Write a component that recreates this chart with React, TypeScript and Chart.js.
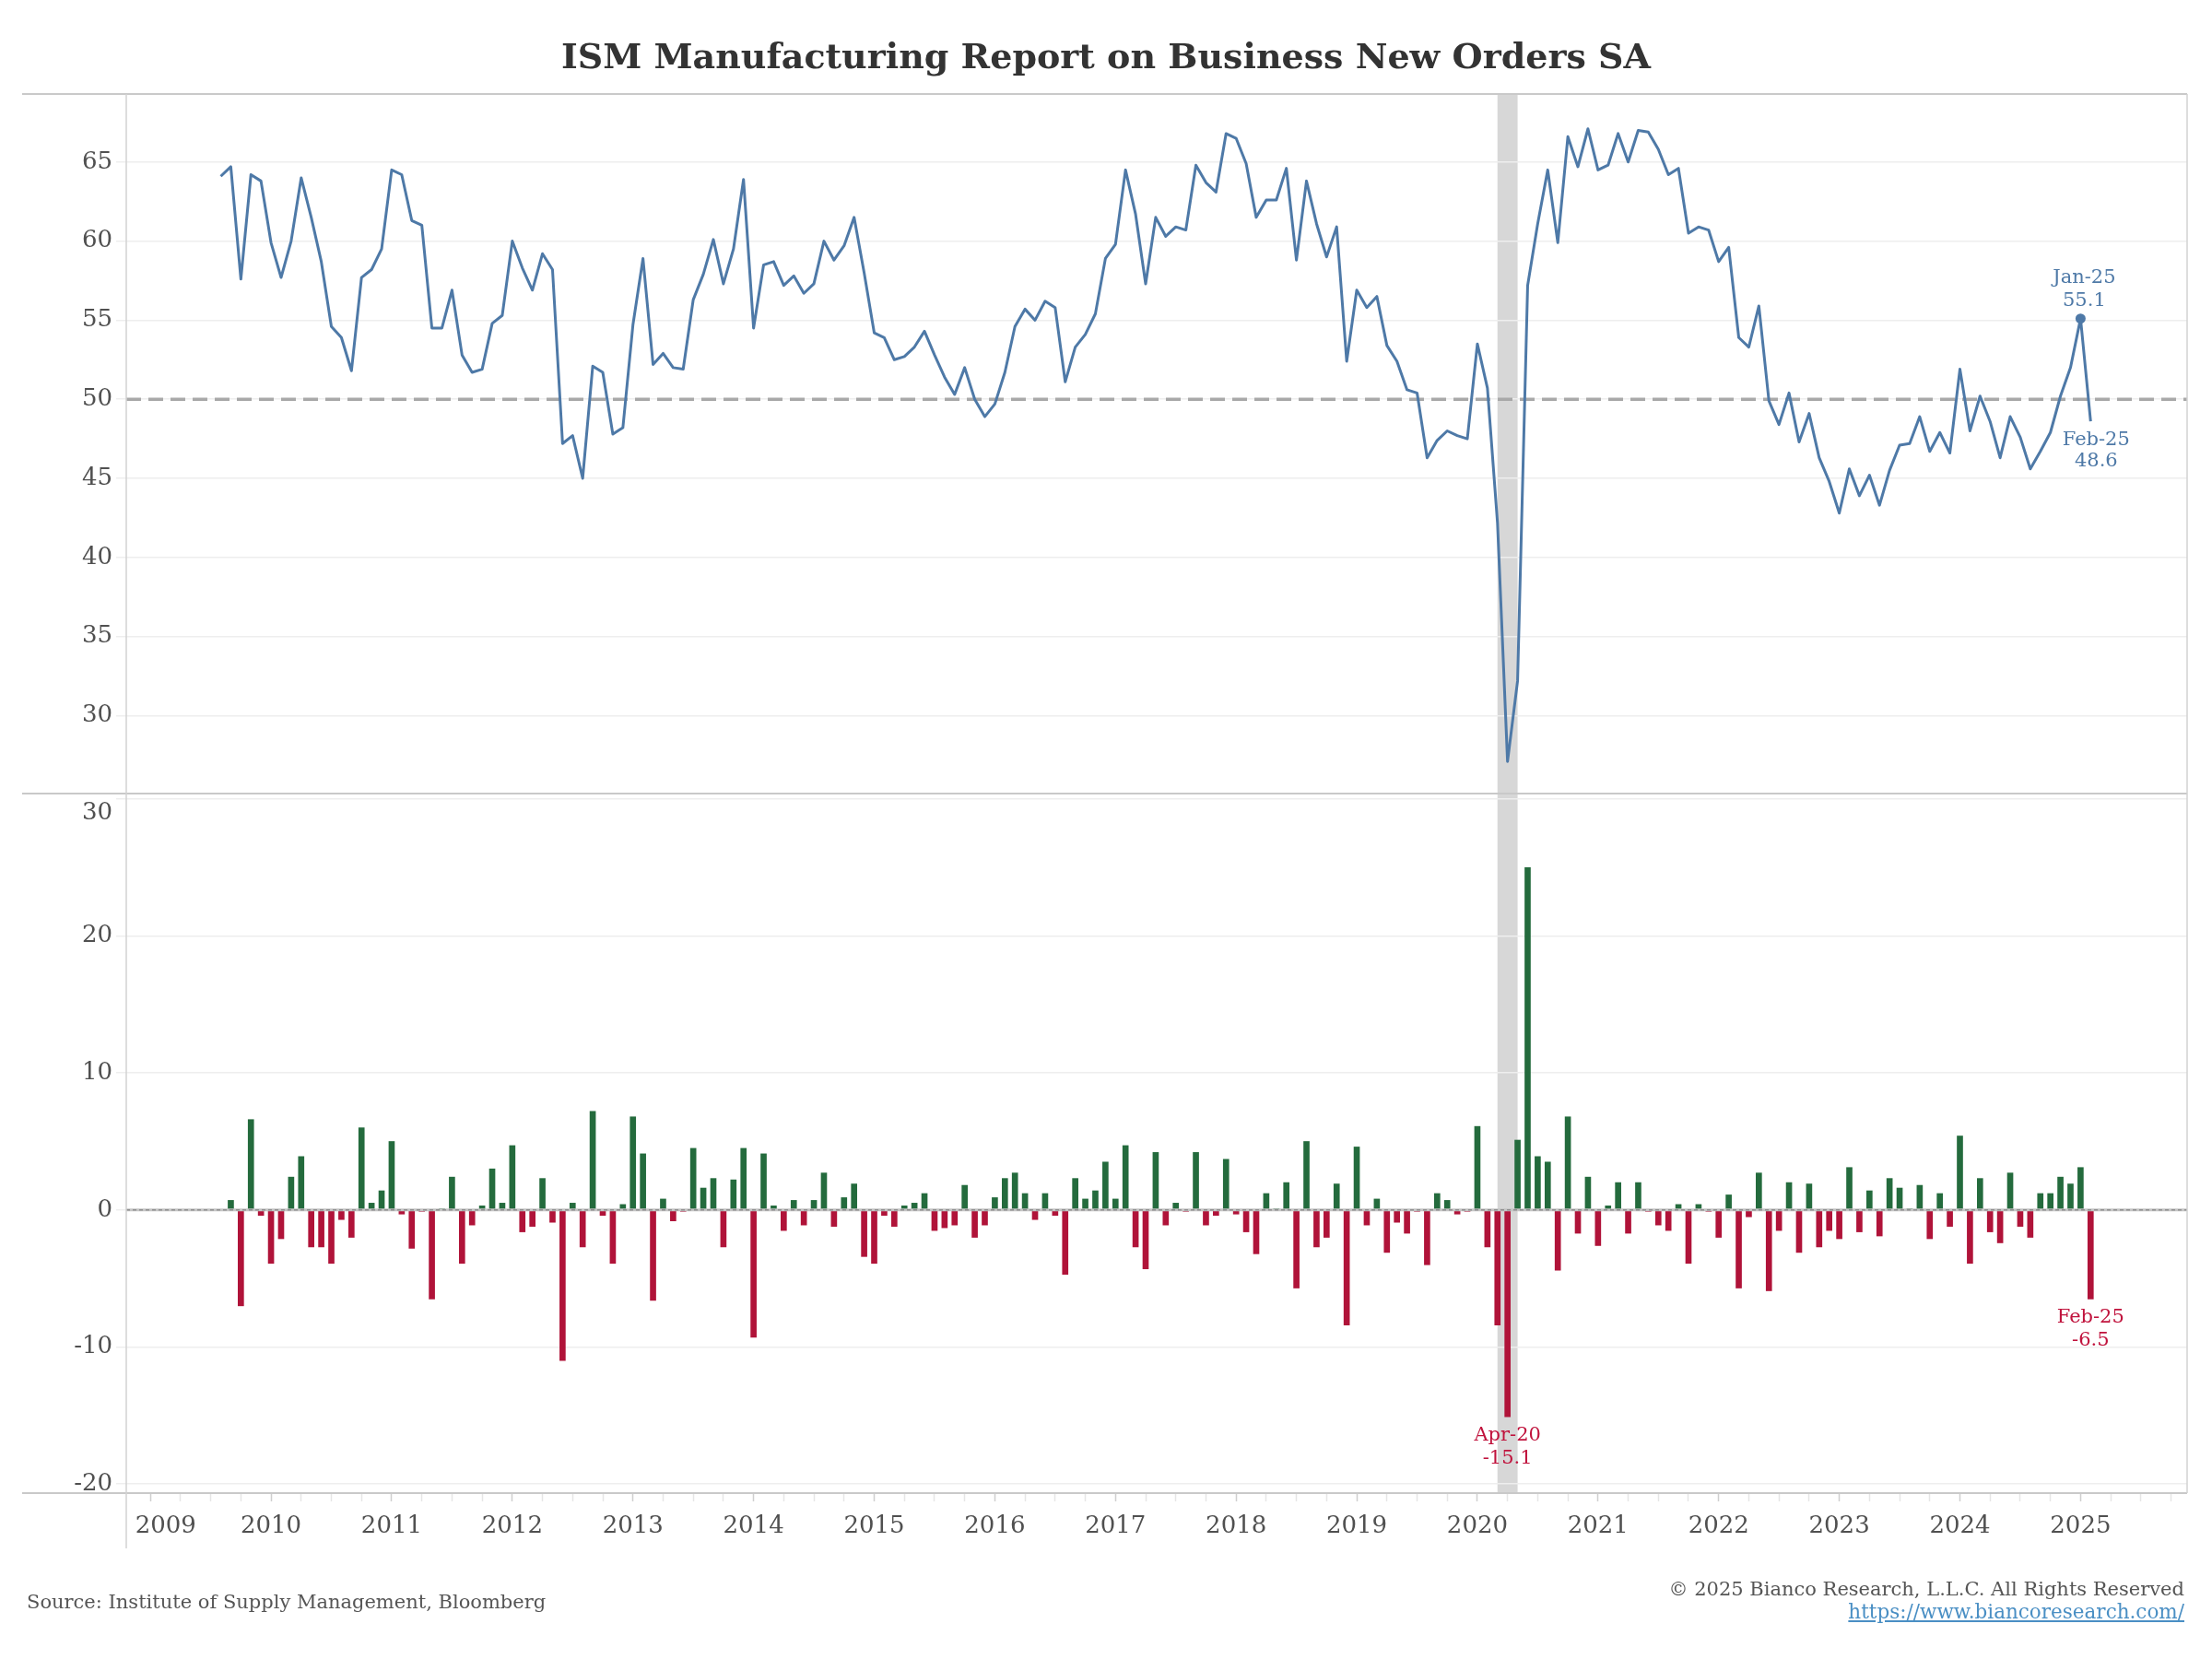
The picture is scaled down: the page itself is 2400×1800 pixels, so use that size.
import React, { useEffect, useRef } from "react";
import { Chart, registerables } from "chart.js";

Chart.register(...registerables);

// ---------- data ----------
const START_YEAR = 2009; // x value 0 = Jan 2009 (months since Jan 2009)
const LEVEL_START = "2009-08";
const CHANGE_START = "2009-09";

// ISM Manufacturing New Orders (SA), monthly, Aug 2009 - Feb 2025
const newOrdersSA = [
  64.1, 64.7, 57.6, 64.2, 63.8,
  59.9, 57.7, 60.0, 64.0, 61.5, 58.7, 54.6, 53.9, 51.8, 57.7, 58.2, 59.5,
  64.5, 64.2, 61.3, 61.0, 54.5, 54.5, 56.9, 52.8, 51.7, 51.9, 54.8, 55.3,
  60.0, 58.3, 56.9, 59.2, 58.2, 47.2, 47.7, 45.0, 52.1, 51.7, 47.8, 48.2,
  54.7, 58.9, 52.2, 52.9, 52.0, 51.9, 56.3, 57.9, 60.1, 57.3, 59.5, 63.9,
  54.5, 58.5, 58.7, 57.2, 57.8, 56.7, 57.3, 60.0, 58.8, 59.7, 61.5, 58.0,
  54.2, 53.9, 52.5, 52.7, 53.3, 54.3, 52.8, 51.4, 50.3, 52.0, 50.0, 48.9,
  49.7, 51.7, 54.6, 55.7, 55.0, 56.2, 55.8, 51.1, 53.3, 54.1, 55.4, 58.9,
  59.8, 64.5, 61.7, 57.3, 61.5, 60.3, 60.9, 60.7, 64.8, 63.7, 63.1, 66.8,
  66.5, 64.9, 61.5, 62.6, 62.6, 64.6, 58.8, 63.8, 61.1, 59.0, 60.9, 52.4,
  56.9, 55.8, 56.5, 53.4, 52.4, 50.6, 50.4, 46.3, 47.4, 48.0, 47.7, 47.5,
  53.5, 50.7, 42.2, 27.1, 32.2, 57.2, 61.1, 64.5, 59.9, 66.6, 64.7, 67.1,
  64.5, 64.8, 66.8, 65.0, 67.0, 66.9, 65.8, 64.2, 64.6, 60.5, 60.9, 60.7,
  58.7, 59.6, 53.9, 53.3, 55.9, 49.9, 48.4, 50.4, 47.3, 49.1, 46.3, 44.8,
  42.8, 45.6, 43.9, 45.2, 43.3, 45.5, 47.1, 47.2, 48.9, 46.7, 47.9, 46.6,
  51.9, 48.0, 50.2, 48.6, 46.3, 48.9, 47.6, 45.6, 46.7, 47.9, 50.2, 52.0,
  55.1, 48.6,
];

// Monthly change, Sep 2009 - Feb 2025
const monthlyChange = [
  0.7, -7.0, 6.6, -0.4,
  -3.9, -2.1, 2.4, 3.9, -2.7, -2.7, -3.9, -0.7, -2.0, 6.0, 0.5, 1.4,
  5.0, -0.3, -2.8, -0.1, -6.5, 0.1, 2.4, -3.9, -1.1, 0.3, 3.0, 0.5,
  4.7, -1.6, -1.2, 2.3, -0.9, -11.0, 0.5, -2.7, 7.2, -0.4, -3.9, 0.4,
  6.8, 4.1, -6.6, 0.8, -0.8, -0.1, 4.5, 1.6, 2.3, -2.7, 2.2, 4.5,
  -9.3, 4.1, 0.3, -1.5, 0.7, -1.1, 0.7, 2.7, -1.2, 0.9, 1.9, -3.4,
  -3.9, -0.4, -1.2, 0.3, 0.5, 1.2, -1.5, -1.3, -1.1, 1.8, -2.0, -1.1,
  0.9, 2.3, 2.7, 1.2, -0.7, 1.2, -0.4, -4.7, 2.3, 0.8, 1.4, 3.5,
  0.8, 4.7, -2.7, -4.3, 4.2, -1.1, 0.5, -0.1, 4.2, -1.1, -0.4, 3.7,
  -0.3, -1.6, -3.2, 1.2, 0.1, 2.0, -5.7, 5.0, -2.7, -2.0, 1.9, -8.4,
  4.6, -1.1, 0.8, -3.1, -0.9, -1.7, -0.1, -4.0, 1.2, 0.7, -0.3, -0.1,
  6.1, -2.7, -8.4, -15.1, 5.1, 25.0, 3.9, 3.5, -4.4, 6.8, -1.7, 2.4,
  -2.6, 0.3, 2.0, -1.7, 2.0, -0.1, -1.1, -1.5, 0.4, -3.9, 0.4, -0.1,
  -2.0, 1.1, -5.7, -0.5, 2.7, -5.9, -1.5, 2.0, -3.1, 1.9, -2.7, -1.5,
  -2.1, 3.1, -1.6, 1.4, -1.9, 2.3, 1.6, 0.1, 1.8, -2.1, 1.2, -1.2,
  5.4, -3.9, 2.3, -1.6, -2.4, 2.7, -1.2, -2.0, 1.2, 1.2, 2.4, 1.9,
  3.1, -6.5,
];

const yearLabels = [2009, 2010, 2011, 2012, 2013, 2014, 2015, 2016, 2017, 2018, 2019, 2020, 2021, 2022, 2023, 2024, 2025];
const upperTicks = [30, 35, 40, 45, 50, 55, 60, 65];
const lowerTicks = [-20, -10, 0, 10, 20, 30];
const recessionMonths = ["2020-03", "2020-05"];
const levelNotes = [
  { month: "2025-01", lines: ["Jan-25", "55.1"], place: "above", dot: true },
  { month: "2025-02", lines: ["Feb-25", "48.6"], place: "below", dot: false },
];
const changeNotes = [
  { month: "2020-04", lines: ["Apr-20", "-15.1"] },
  { month: "2025-02", lines: ["Feb-25", "-6.5"] },
];

// ---------- helpers / style ----------
const monthIndex = (ym: string) => {
  const [y, m] = ym.split("-").map(Number);
  return (y - START_YEAR) * 12 + (m - 1);
};
const FONT = '"DejaVu Serif", serif';
const BLUE = "#4e79a7";
const GREEN = "#246b3d";
const RED = "#b01339";
const RED_TEXT = "#c0123c";

const levelStart = monthIndex(LEVEL_START);
const changeStart = monthIndex(CHANGE_START);
const dotIndexes = levelNotes.filter((n) => n.dot).map((n) => monthIndex(n.month) - levelStart);

const bgPlugin = {
  id: "bgBand",
  beforeDraw(chart: any) {
    const { ctx, chartArea, scales } = chart;
    ctx.save();
    ctx.fillStyle = "#ffffff";
    ctx.fillRect(0, 0, chart.width, chart.height);
    const x0 = scales.x.getPixelForValue(monthIndex(recessionMonths[0]));
    const x1 = scales.x.getPixelForValue(monthIndex(recessionMonths[1]));
    ctx.fillStyle = "#d7d7d7";
    ctx.fillRect(x0, chartArea.top, x1 - x0, chartArea.bottom - chartArea.top);
    ctx.restore();
  },
  beforeDatasetsDraw(chart: any) {
    const { ctx, chartArea, scales } = chart;
    const y50 = scales.yTop.getPixelForValue(50);
    ctx.save();
    ctx.strokeStyle = "#a8a8a8";
    ctx.lineWidth = 3.5;
    ctx.setLineDash([16, 8]);
    ctx.beginPath();
    ctx.moveTo(chartArea.left, y50);
    ctx.lineTo(chartArea.right, y50);
    ctx.stroke();
    ctx.restore();
  },
  afterDatasetsDraw(chart: any) {
    const { ctx, chartArea, scales } = chart;
    const y0 = scales.yBot.getPixelForValue(0);
    ctx.save();
    ctx.strokeStyle = "#c4c4c4";
    ctx.lineWidth = 3;
    ctx.beginPath();
    ctx.moveTo(chartArea.left, y0);
    ctx.lineTo(chartArea.right, y0);
    ctx.stroke();
    ctx.strokeStyle = "#8f8f8f";
    ctx.lineWidth = 1.5;
    ctx.setLineDash([4, 3]);
    ctx.beginPath();
    ctx.moveTo(chartArea.left, y0);
    ctx.lineTo(chartArea.right, y0);
    ctx.stroke();
    ctx.setLineDash([]);

    // annotations
    ctx.font = `21px ${FONT}`;
    ctx.textAlign = "center";
    ctx.textBaseline = "middle";
    levelNotes.forEach((n) => {
      const i = monthIndex(n.month);
      const v = newOrdersSA[i - levelStart];
      const px = scales.x.getPixelForValue(i);
      const py = scales.yTop.getPixelForValue(v);
      ctx.fillStyle = BLUE;
      if (n.place === "above") {
        ctx.fillText(n.lines[0], px + 4, py - 44);
        ctx.fillText(n.lines[1], px + 4, py - 19);
      } else {
        ctx.fillText(n.lines[0], px + 6, py + 20);
        ctx.fillText(n.lines[1], px + 6, py + 43);
      }
    });
    changeNotes.forEach((n) => {
      const i = monthIndex(n.month);
      const v = monthlyChange[i - changeStart];
      const px = scales.x.getPixelForValue(i);
      const py = scales.yBot.getPixelForValue(v);
      ctx.fillStyle = RED_TEXT;
      ctx.fillText(n.lines[0], px, py + 20);
      ctx.fillText(n.lines[1], px, py + 45);
    });
    ctx.restore();
  },
  afterDraw(chart: any) {
    const { ctx, chartArea, scales } = chart;
    const mid = scales.yTop.bottom;
    ctx.save();
    ctx.strokeStyle = "#c9c9c9";
    ctx.lineWidth = 2;
    [chartArea.top, mid, chartArea.bottom].forEach((y: number) => {
      ctx.beginPath();
      ctx.moveTo(24, y);
      ctx.lineTo(chartArea.right, y);
      ctx.stroke();
    });
    ctx.strokeStyle = "#d2d2d2";
    ctx.lineWidth = 1.5;
    ctx.beginPath();
    ctx.moveTo(chartArea.left, chartArea.top);
    ctx.lineTo(chartArea.left, chartArea.bottom + 60);
    ctx.moveTo(chartArea.right, chartArea.top);
    ctx.lineTo(chartArea.right, chartArea.bottom);
    ctx.stroke();
    ctx.restore();
  },
};

const tickFont = { family: FONT, size: 26 };

export default function App() {
  const canvasRef = useRef<HTMLCanvasElement | null>(null);

  useEffect(() => {
    const canvas = canvasRef.current;
    if (!canvas) return;
    const quarterTicks: number[] = [];
    for (let v = 0; v <= (yearLabels[yearLabels.length - 1] - START_YEAR) * 12 + 9; v += 3) quarterTicks.push(v);
    const topLower = lowerTicks[lowerTicks.length - 1];

    const chart = new Chart(canvas, {
      type: "bar",
      data: {
        datasets: [
          {
            type: "line",
            label: "New Orders",
            data: newOrdersSA.map((v, i) => ({ x: levelStart + i, y: v })),
            xAxisID: "x",
            yAxisID: "yTop",
            borderColor: BLUE,
            backgroundColor: BLUE,
            borderWidth: 3,
            borderJoinStyle: "round",
            tension: 0,
            pointRadius: (c: any) => (dotIndexes.includes(c.dataIndex) ? 5.5 : 0),
            pointBorderWidth: 0,
            pointHoverRadius: 0,
            order: 1,
          } as any,
          {
            type: "bar",
            label: "Change",
            data: monthlyChange.map((v, i) => ({ x: changeStart + i, y: v })),
            xAxisID: "x",
            yAxisID: "yBot",
            backgroundColor: (c: any) => ((c.raw && c.raw.y >= 0) ? GREEN : RED),
            borderWidth: 0,
            barThickness: 6,
            grouped: false,
            order: 2,
          } as any,
        ],
      },
      options: {
        animation: false,
        responsive: false,
        maintainAspectRatio: false,
        devicePixelRatio: 1,
        layout: { padding: { left: 0, right: 27, top: 102, bottom: 0 } },
        plugins: { legend: { display: false }, tooltip: { enabled: false } },
        events: [],
        scales: {
          x: {
            type: "linear",
            min: -2.4,
            max: 202.6,
            offset: false,
            afterBuildTicks: (s: any) => {
              s.ticks = quarterTicks.map((v) => ({ value: v }));
            },
            afterFit: (s: any) => {
              s.height = 180;
            },
            ticks: {
              autoSkip: false,
              maxRotation: 0,
              padding: 12,
              font: tickFont,
              color: "#505050",
              callback: (v: any) => {
                const n = Number(v);
                if (n % 12 !== 0) return "";
                const label = String(yearLabels[n / 12]);
                // first label nudged inside the plot edge
                return n === 0 ? "\u2007\u2007" + label : label;
              },
            },
            grid: {
              drawOnChartArea: false,
              drawTicks: true,
              tickLength: 9,
              tickWidth: 1.5,
              tickColor: (c: any) => (c.tick && c.tick.value % 12 === 0 ? "#cfcfcf" : "#e6e6e6"),
              offset: false,
            },
            border: { display: false },
          },
          yTop: {
            type: "linear",
            position: "left",
            stack: "panels",
            stackWeight: 1,
            weight: 2,
            min: 25.07,
            max: 69.3,
            afterBuildTicks: (s: any) => {
              s.ticks = upperTicks.map((v) => ({ value: v }));
            },
            afterFit: (s: any) => {
              s.width = 137;
            },
            ticks: { font: tickFont, color: "#505050", padding: 4 },
            grid: { color: "#eeeeee", lineWidth: 1.5, tickLength: 11, drawTicks: true },
            border: { display: false },
          },
          yBot: {
            type: "linear",
            position: "left",
            stack: "panels",
            stackWeight: 1,
            weight: 1,
            min: -20.67,
            max: 30.4,
            afterBuildTicks: (s: any) => {
              s.ticks = lowerTicks.map((v) => ({ value: v }));
            },
            afterFit: (s: any) => {
              s.width = 137;
            },
            ticks: {
              font: tickFont,
              color: "#505050",
              padding: 4,
              // top label kept inside its panel
              callback: (v: any) => (Number(v) === topLower ? ["", String(v)] : String(v)),
            },
            grid: { color: "#eeeeee", lineWidth: 1.5, tickLength: 11, drawTicks: true },
            border: { display: false },
          },
        } as any,
      },
      plugins: [bgPlugin],
    });
    return () => chart.destroy();
  }, []);

  return (
    <div style={{ position: "absolute", left: 0, top: 0, width: 2400, height: 1800, background: "#fff", overflow: "hidden" }}>
      <canvas ref={canvasRef} width={2400} height={1800} style={{ position: "absolute", left: 0, top: 0, width: 2400, height: 1800 }} />
      <div
        style={{
          position: "absolute",
          left: 0,
          top: 39,
          width: 2400,
          textAlign: "center",
          font: `bold 38px ${FONT}`,
          lineHeight: "44px",
          color: "#333",
        }}
      >
        ISM Manufacturing Report on Business New Orders SA
      </div>
      <div style={{ position: "absolute", left: 29, top: 1725, font: `21px ${FONT}`, lineHeight: "26px", color: "#555" }}>
        Source: Institute of Supply Management, Bloomberg
      </div>
      <div style={{ position: "absolute", right: 30, top: 1711, font: `21px ${FONT}`, lineHeight: "26px", color: "#555", textAlign: "right" }}>
        © 2025 Bianco Research, L.L.C. All Rights Reserved
      </div>
      <div style={{ position: "absolute", right: 30, top: 1736, font: `21.5px ${FONT}`, lineHeight: "26px", textAlign: "right" }}>
        <a href="https://www.biancoresearch.com/" style={{ color: "#4a8fc4", textDecoration: "underline" }}>
          https://www.biancoresearch.com/
        </a>
      </div>
    </div>
  );
}
